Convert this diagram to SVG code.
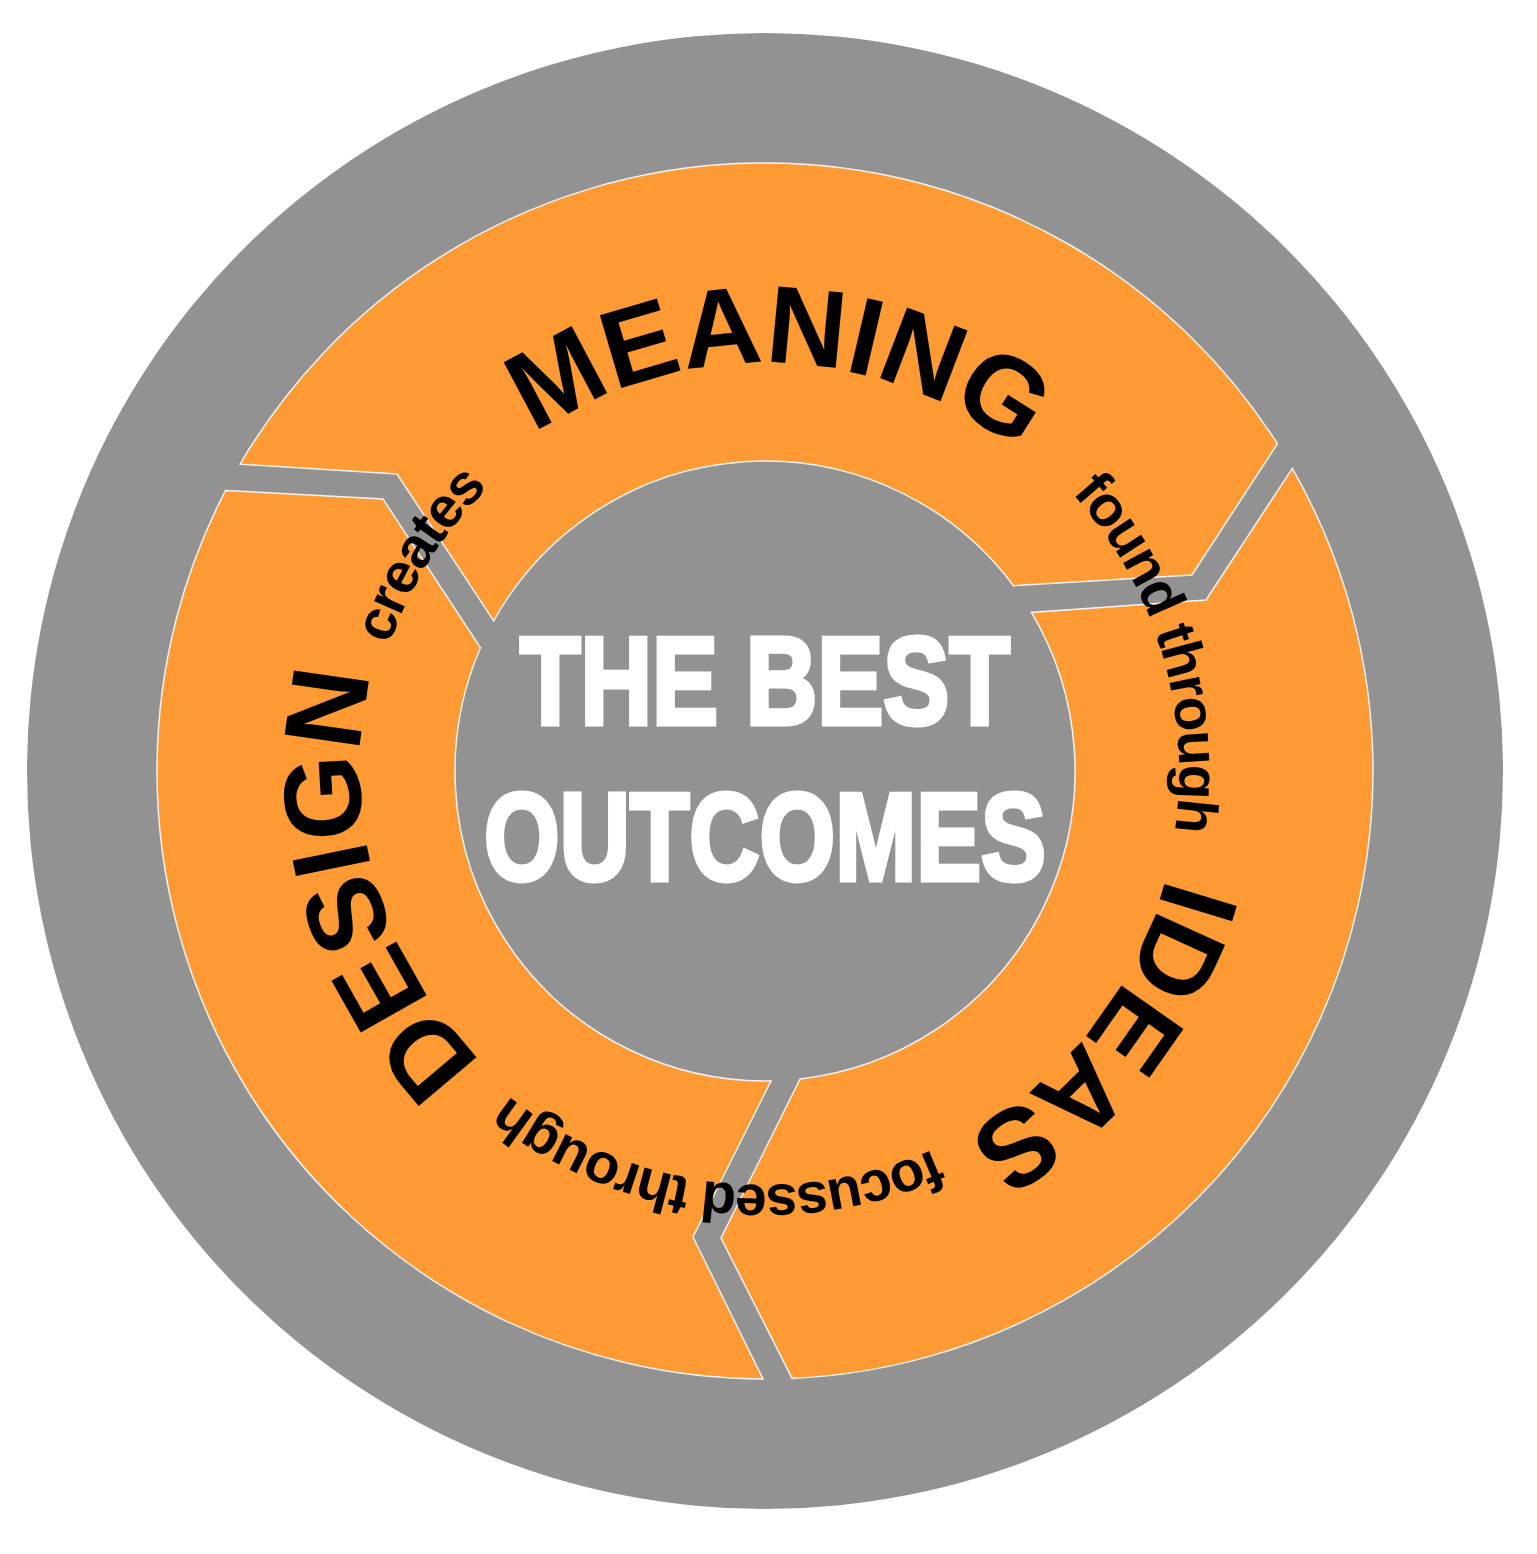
<svg xmlns="http://www.w3.org/2000/svg" width="1537" height="1554" viewBox="0 0 1537 1554">
  <defs>
    <style>
      .seg { fill: #FD9A33; stroke: #F2F2F2; stroke-width: 1.5; stroke-linejoin: miter; }
      .gray { fill: #929292; }
      .big { font-family: "Liberation Sans", Arial, sans-serif; font-weight: bold; font-size: 110px; fill: #000; }
      .small { font-family: "Liberation Sans", Arial, sans-serif; font-weight: bold; font-size: 57px; fill: #000; letter-spacing: -2px; }
      .center { font-family: "Liberation Sans", Arial, sans-serif; font-weight: bold; font-size: 124px; fill: #fff; stroke: #fff; stroke-width: 5; stroke-linejoin: miter; }
    </style>
    <path id="p-meaning" d="M 360.04,721.28 A 408 408 0 0 1 1172.44,749.65"/>
    <path id="p-ideas" d="M 1048.03,467.49 A 415 415 0 0 1 538.97,1119.05"/>
    <path id="p-design" d="M 842.28,1168.56 A 405 405 0 0 1 619.86,392.90"/>
    <path id="p-creates" d="M 526.68,1087.26 A 396 396 0 0 1 944.78,418.16"/>
    <path id="p-found" d="M 678.92,366.05 A 414 414 0 0 1 920.09,1154.85"/>
    <path id="p-focussed" d="M 1169.95,857.08 A 414 414 0 0 1 351.25,756.55"/>
  </defs>

  <g id="outer-ring">
    <circle class="gray" cx="765" cy="771" r="738"/>
  </g>

  <g id="center">
    <circle class="gray" cx="765" cy="771" r="310"/>
  </g>

  <g id="node-meaning">
    <path class="seg" d="M 240.1,464.2 A 608 608 0 0 1 1277.4,443.7 L 1192,575 L 1013.5,585.7 A 310 310 0 0 0 493.7,620.9 L 397,474 Z"/>
    <text class="big"><textPath href="#p-meaning" startOffset="50%" text-anchor="middle">MEANING</textPath></text>
  </g>

  <g id="node-ideas">
    <path class="seg" d="M 1292.3,468.4 A 608 608 0 0 1 792.1,1378.4 L 721,1238 L 800.1,1079 A 310 310 0 0 0 1031.4,612.4 L 1206,600 Z"/>
    <text class="big" font-size="108"><textPath href="#p-ideas" startOffset="50%" text-anchor="middle">IDEAS</textPath></text>
  </g>

  <g id="node-design">
    <path class="seg" d="M 225.6,490.4 L 383,499 L 480.5,647.8 A 310 310 0 0 0 771,1080.9 L 693,1237 L 763,1379 A 608 608 0 0 1 225.6,490.4 Z"/>
    <text class="big"><textPath href="#p-design" startOffset="50%" text-anchor="middle">DESIGN</textPath></text>
  </g>

  <g id="node-outcomes">
    <text class="center" x="765" y="724" text-anchor="middle" textLength="490" lengthAdjust="spacingAndGlyphs">THE BEST</text>
    <text class="center" x="765" y="880" text-anchor="middle" textLength="562" lengthAdjust="spacingAndGlyphs">OUTCOMES</text>
  </g>

  <g id="connectors">
    <text class="small"><textPath href="#p-creates" startOffset="50%" text-anchor="middle">creates</textPath></text>
    <text class="small"><textPath href="#p-found" startOffset="50%" text-anchor="middle">found through</textPath></text>
    <text class="small"><textPath href="#p-focussed" startOffset="50%" text-anchor="middle">focussed through</textPath></text>
  </g>
</svg>
